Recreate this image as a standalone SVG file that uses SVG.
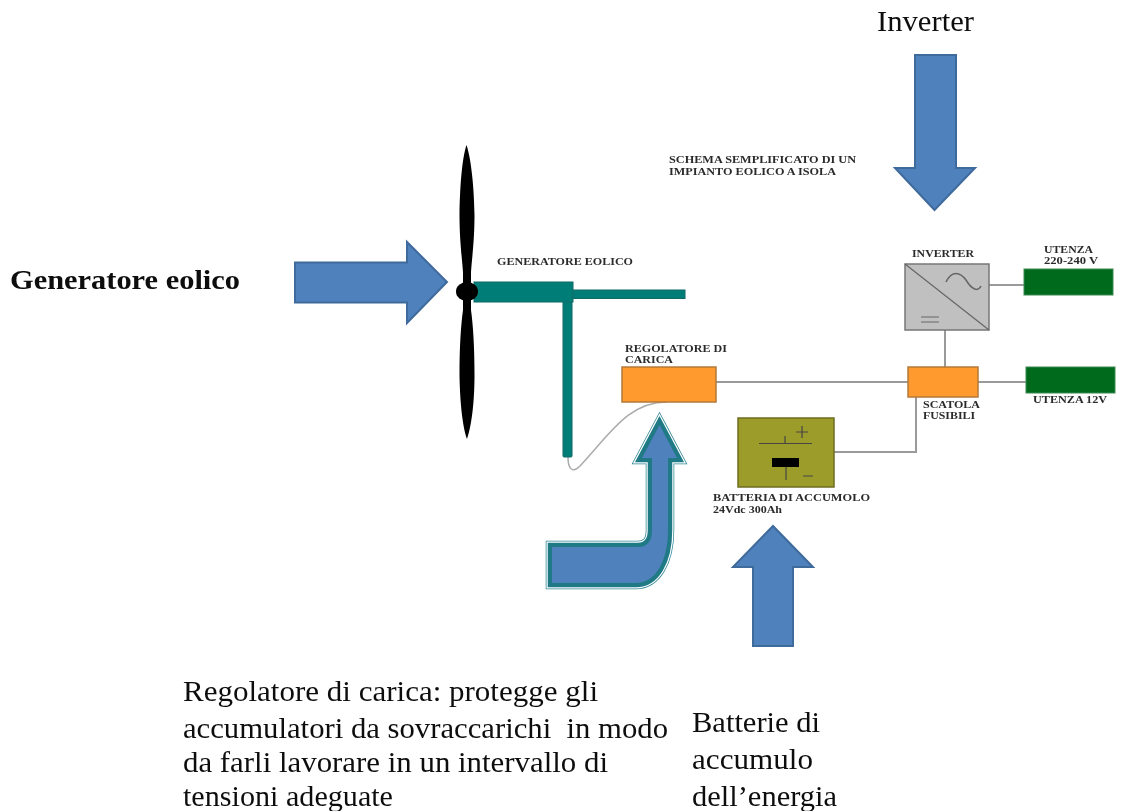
<svg xmlns="http://www.w3.org/2000/svg" width="1138" height="811" viewBox="0 0 1138 811">
  <style>
    .call { font-family: "Liberation Serif", "Times New Roman", serif; font-size: 29.5px; fill: #111; filter: url(#faint); }
    .lead { font-family: "Liberation Serif", "Times New Roman", serif; font-size: 28px; font-weight: bold; fill: #111; filter: url(#faint); }
    .small { font-family: "Liberation Serif", "Times New Roman", serif; font-size: 9.5px; font-weight: bold; fill: #2c2c2c; }
    .wire { fill: none; stroke: #9a9a9a; stroke-width: 2; }
    .arrow { fill: #4f81bd; stroke: #3f6a9c; stroke-width: 2; }
    .teal { fill: #067d76; stroke: #0a6a66; stroke-width: 1; }
    .orange { fill: #ff9a2e; stroke: #b5793a; stroke-width: 1.5; }
    .green { fill: #006a1e; stroke: #3d8a50; stroke-width: 1; }
    .soft { filter: url(#soft); }
  </style>
  <defs>
    <filter id="soft" x="-5%" y="-5%" width="110%" height="110%"><feGaussianBlur stdDeviation="0.6"/></filter>
    <filter id="faint" x="-5%" y="-5%" width="110%" height="110%"><feGaussianBlur stdDeviation="0.4"/></filter>
    <path id="bent" d="M659.500 425 L677 458 L668 458 L668 530 C668 562 655 583 636 583 L552 583 L552 547 L638 547 Q652 547 652 530 L652 458 L642 458 Z"/>
  </defs>
  <rect width="1138" height="811" fill="#fff"/>

  <g id="connectors" class="soft">
    <path class="wire" d="M716 382H908"/>
    <path class="wire" d="M989 285H1024"/>
    <path class="wire" d="M945 330V367"/>
    <path class="wire" d="M978 382H1026"/>
    <path class="wire" d="M916 397V452H834"/>
    <path class="wire" style="stroke:#ababab;stroke-width:1.5" d="M568 457C568 470 573 473 580 466C610 434 628 402 667 402"/>
  </g>

  <g id="turbine" class="soft">
    <rect class="teal" x="563" y="300" width="9" height="157" rx="1"/>
    <rect class="teal" x="572" y="290" width="113" height="8.500"/>
    <rect class="teal" x="474" y="282" width="99" height="20"/>
    <path fill="#000" d="M466.500 145C463 155 460 180 459.500 215C459.500 240 462 258 463 272L463 310C461 325 459.500 345 459.500 375C460 405 463 428 467 439C471 428 474.500 405 474.500 375C474.500 345 473 325 471 310L471 272C472 258 474.500 240 474.500 215C474 180 470 155 466.500 145Z"/>
    <ellipse fill="#000" cx="467" cy="291.500" rx="11" ry="9.500"/>
    <text class="small" x="497" y="265" textLength="136" lengthAdjust="spacingAndGlyphs">GENERATORE EOLICO</text>
  </g>

  <text id="diagram-title" class="small soft"><tspan x="669" y="163" textLength="187" lengthAdjust="spacingAndGlyphs">SCHEMA SEMPLIFICATO DI UN</tspan><tspan x="669" y="175" textLength="167" lengthAdjust="spacingAndGlyphs">IMPIANTO EOLICO A ISOLA</tspan></text>

  <g id="regolatore" class="soft">
    <rect class="orange" x="622" y="367" width="94" height="35"/>
    <text class="small"><tspan x="625" y="352" textLength="102" lengthAdjust="spacingAndGlyphs">REGOLATORE DI</tspan><tspan x="625" y="363" textLength="48" lengthAdjust="spacingAndGlyphs">CARICA</tspan></text>
  </g>

  <g id="batteria" class="soft">
    <rect x="738" y="418" width="96" height="69" fill="#9c9c2c" stroke="#6d6d22" stroke-width="1.500"/>
    <path fill="none" stroke="#444" stroke-width="1.200" d="M759 443.500H812M785 436V443M796 432H808M802 426V438M786 467V480M803 476H813"/>
    <rect x="772" y="458" width="27" height="9" fill="#000"/>
    <text class="small"><tspan x="713" y="501" textLength="157" lengthAdjust="spacingAndGlyphs">BATTERIA DI ACCUMOLO</tspan><tspan x="713" y="513" textLength="69" lengthAdjust="spacingAndGlyphs">24Vdc 300Ah</tspan></text>
  </g>

  <g id="inverter" class="soft">
    <rect x="905" y="264" width="84" height="66" fill="#c0c0c0" stroke="#777" stroke-width="1.500"/>
    <path fill="none" stroke="#666" stroke-width="1.200" d="M905 264L989 330M921 317H939M921 322H939"/>
    <path fill="none" stroke="#666" stroke-width="1.500" d="M946 282C952 270 960 272 966 280C972 290 978 292 981 286"/>
    <text class="small" x="912" y="257" textLength="62" lengthAdjust="spacingAndGlyphs">INVERTER</text>
  </g>

  <g id="scatola" class="soft">
    <rect class="orange" x="908" y="367" width="70" height="30"/>
    <text class="small"><tspan x="923" y="408" textLength="57" lengthAdjust="spacingAndGlyphs">SCATOLA</tspan><tspan x="923" y="419" textLength="52" lengthAdjust="spacingAndGlyphs">FUSIBILI</tspan></text>
  </g>

  <g id="utenza-220" class="soft">
    <rect class="green" x="1024" y="269" width="89" height="26"/>
    <text class="small"><tspan x="1044" y="253" textLength="49" lengthAdjust="spacingAndGlyphs">UTENZA</tspan><tspan x="1044" y="264" textLength="54" lengthAdjust="spacingAndGlyphs">220-240 V</tspan></text>
  </g>

  <g id="utenza-12" class="soft">
    <rect class="green" x="1026" y="367" width="89" height="26"/>
    <text class="small" x="1033" y="403" textLength="74" lengthAdjust="spacingAndGlyphs">UTENZA 12V</text>
  </g>

  <g id="callout-generatore">
    <path class="arrow" d="M295 262.500H407V242L447 282L407 323V302.500H295Z"/>
    <text class="lead" x="10" y="289" textLength="230" lengthAdjust="spacingAndGlyphs">Generatore eolico</text>
  </g>

  <g id="callout-inverter">
    <path class="arrow" d="M915 55H956V168H975L934.500 210L895 168H915Z"/>
    <text class="call" x="877" y="31" textLength="97" lengthAdjust="spacingAndGlyphs">Inverter</text>
  </g>

  <g id="callout-regolatore">
    <use href="#bent" fill="none" stroke="#2f8795" stroke-width="12.500" stroke-miterlimit="10"/>
    <use href="#bent" fill="none" stroke="#fff" stroke-width="11" stroke-miterlimit="10"/>
    <use href="#bent" fill="none" stroke="#1f7a86" stroke-width="8.500" stroke-miterlimit="10"/>
    <use href="#bent" fill="#4f81bd"/>
    <text class="call" xml:space="preserve"><tspan x="183" y="701" textLength="415" lengthAdjust="spacingAndGlyphs">Regolatore di carica: protegge gli</tspan><tspan x="183" y="738" textLength="485" lengthAdjust="spacingAndGlyphs">accumulatori da sovraccarichi  in modo</tspan><tspan x="183" y="772" textLength="425" lengthAdjust="spacingAndGlyphs">da farli lavorare in un intervallo di</tspan><tspan x="183" y="806" textLength="210" lengthAdjust="spacingAndGlyphs">tensioni adeguate</tspan></text>
  </g>

  <g id="callout-batterie">
    <path class="arrow" d="M773 526L813 567H793V646H753V567H733Z"/>
    <text class="call"><tspan x="692" y="732" textLength="128" lengthAdjust="spacingAndGlyphs">Batterie di</tspan><tspan x="692" y="769" textLength="121" lengthAdjust="spacingAndGlyphs">accumulo</tspan><tspan x="692" y="806" textLength="145" lengthAdjust="spacingAndGlyphs">dell’energia</tspan></text>
  </g>
</svg>
